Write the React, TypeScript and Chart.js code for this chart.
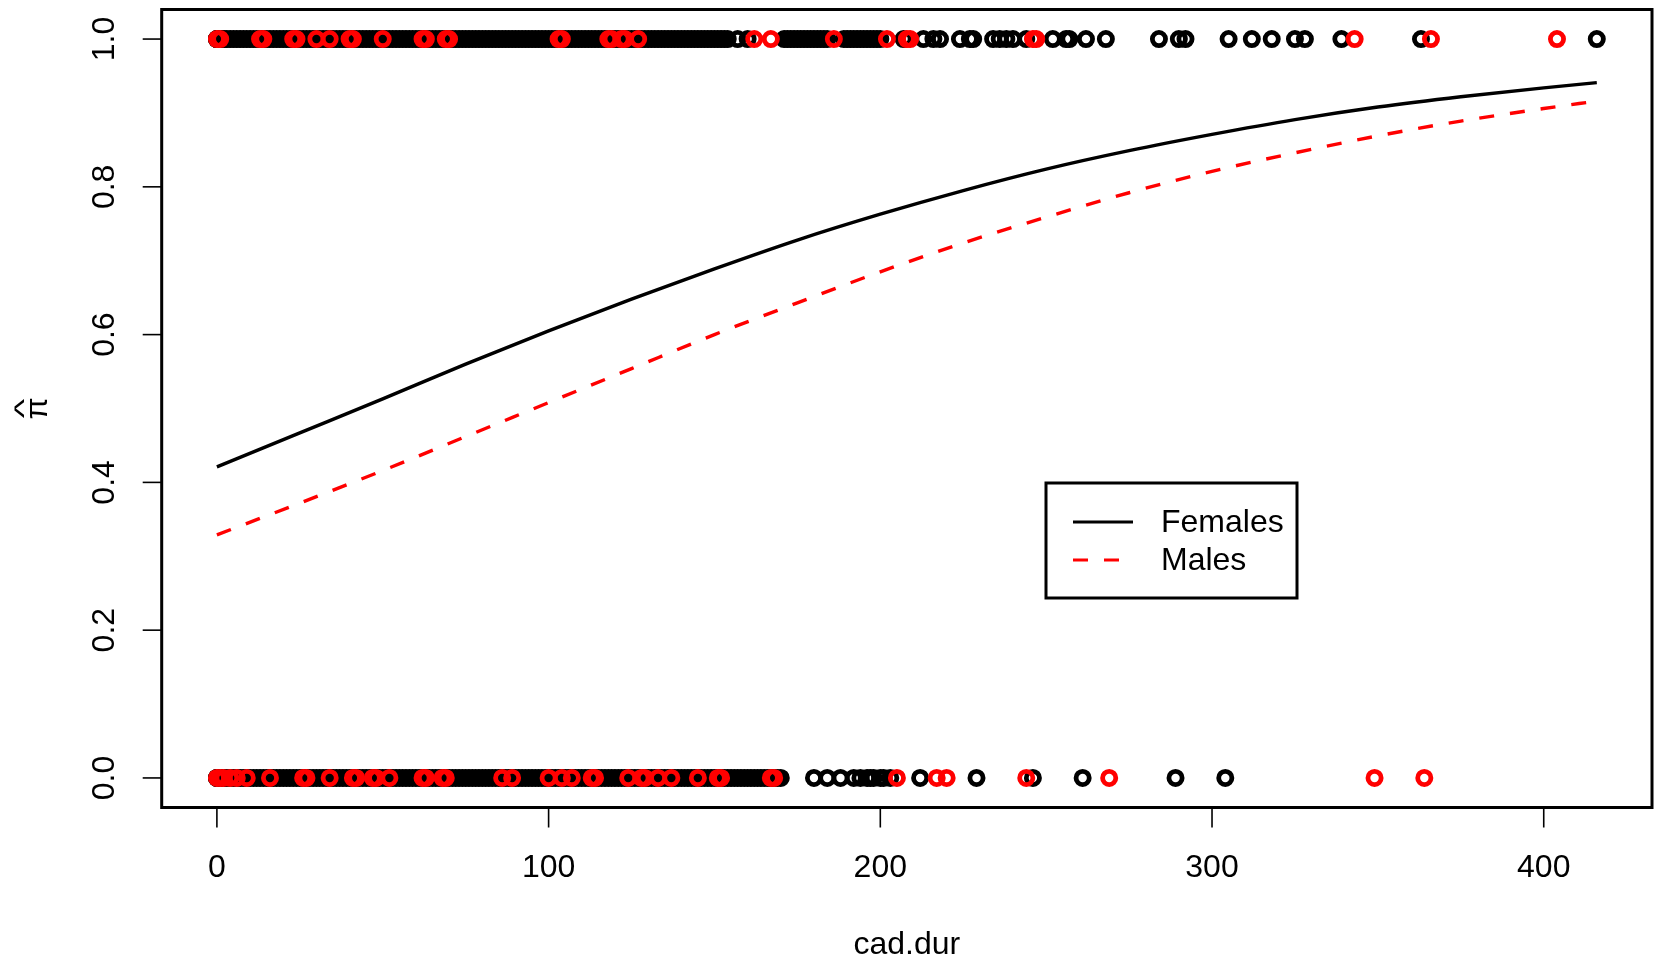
import React, { useEffect, useRef } from "react";
import { Chart, registerables } from "chart.js";

Chart.register(...registerables);

// ---------- data ----------
const xTickValues = [0, 100, 200, 300, 400];
const xTickLabels = ["0", "100", "200", "300", "400"];
const yTickValues = [0, 0.2, 0.4, 0.6, 0.8, 1.0];
const yTickLabels = ["0.0", "0.2", "0.4", "0.6", "0.8", "1.0"];
const xTitle = "cad.dur";
const yTitleBase = "\u03C0";
const yTitleHat = "^";
const legendLabels = ["Females", "Males"];

// fitted curves
const curveX = [0, 25, 50, 75, 100, 125, 150, 175, 200, 225, 250, 275, 300, 325, 350, 375, 400, 416];
const femalesFit = [0.421, 0.467, 0.513, 0.560, 0.605, 0.648, 0.689, 0.728, 0.763, 0.795, 0.824, 0.849, 0.871, 0.891, 0.908, 0.922, 0.934, 0.941];
const malesFit = [0.329, 0.372, 0.416, 0.462, 0.508, 0.554, 0.600, 0.643, 0.685, 0.724, 0.759, 0.792, 0.821, 0.846, 0.869, 0.889, 0.906, 0.916];

// observed outcomes: cad.dur values of females / males with outcome 1 and 0
const femalesOne = [
  0, 0, 0, 1, 1, 2, 2, 3, 4, 5, 6, 7, 8, 9, 10, 11, 12, 13, 14, 15, 16, 17, 18, 19, 20, 21, 22, 23, 24, 25, 26,
  27, 28, 29, 30, 31, 32, 33, 34, 35, 36, 37, 38, 39, 40, 41, 42, 43, 44, 45, 46, 47, 48, 49, 50, 51, 52, 53,
  54, 55, 56, 57, 58, 59, 60, 61, 62, 63, 64, 65, 66, 67, 68, 69, 70, 71, 72, 73, 74, 75, 76, 77, 78, 79, 80,
  81, 82, 83, 84, 85, 86, 87, 88, 89, 90, 91, 92, 93, 94, 95, 96, 97, 98, 99, 100, 101, 102, 103, 104, 105,
  106, 107, 108, 109, 110, 111, 112, 113, 114, 115, 116, 117, 118, 119, 120, 121, 122, 123, 124, 125, 126,
  127, 128, 129, 130, 131, 132, 133, 134, 135, 136, 137, 138, 139, 140, 141, 142, 143, 144, 145, 146, 147,
  148, 149, 150, 151, 152, 153, 154, 157, 160, 171, 172, 173, 174, 175, 176, 177, 178, 179, 180, 181, 182, 183,
  184, 189, 190, 191, 192, 193, 194, 195, 196, 197, 198, 199, 200, 207, 213, 216, 218, 224, 227, 228, 234,
  236, 238, 240, 244, 252, 256, 257, 262, 268, 284, 290, 292, 305, 312, 318, 325, 328, 339, 363, 416,
];
const malesOne = [
  0, 1, 13, 14, 23, 24, 30, 34, 40, 41, 50, 62, 63, 69, 70, 103, 104, 118, 119, 122, 123, 127, 162, 167, 186,
  202, 208, 209, 246, 247, 343, 366, 404,
];
const femalesZero = [
  0, 0, 0, 1, 1, 2, 2, 3, 4, 5, 6, 7, 8, 9, 10, 11, 12, 13, 14, 15, 16, 17, 18, 19, 20, 21, 22, 23, 24, 25, 26,
  27, 28, 29, 30, 31, 32, 33, 34, 35, 36, 37, 38, 39, 40, 41, 42, 43, 44, 45, 46, 47, 48, 49, 50, 51, 52, 53,
  54, 55, 56, 57, 58, 59, 60, 61, 62, 63, 64, 65, 66, 67, 68, 69, 70, 71, 72, 73, 74, 75, 76, 77, 78, 79, 80,
  81, 82, 83, 84, 85, 86, 87, 88, 89, 90, 91, 92, 93, 94, 95, 96, 97, 98, 99, 100, 101, 102, 103, 104, 105,
  106, 107, 108, 109, 110, 111, 112, 113, 114, 115, 116, 117, 118, 119, 120, 121, 122, 123, 124, 125, 126,
  127, 128, 129, 130, 131, 132, 133, 134, 135, 136, 137, 138, 139, 140, 141, 142, 143, 144, 145, 146, 147,
  148, 149, 150, 151, 152, 153, 154, 155, 156, 157, 158, 159, 160, 161, 162, 163, 164, 165, 166, 167, 168,
  169, 170, 180, 184, 188, 192, 194, 196, 197, 198, 200, 201, 203, 212, 229, 246, 261, 289, 304,
];
const malesZero = [
  0, 1, 2, 4, 6, 9, 16, 26, 27, 34, 41, 42, 47, 48, 52, 62, 63, 68, 69, 86, 89, 100, 104, 107, 113, 114, 124,
  128, 129, 133, 137, 145, 151, 152, 167, 168, 205, 217, 220, 244, 269, 349, 364,
];

const BLACK = "#000000";
const RED = "#FF0000";
const FONT = '32px "Liberation Sans", Arial, Helvetica, sans-serif';

export default function App() {
  const ref = useRef<HTMLCanvasElement | null>(null);

  useEffect(() => {
    const canvas = ref.current;
    if (!canvas) return;

    type P = { x: number; y: number; c: string };
    const blacks: P[] = [];
    const reds: P[] = [];
    femalesOne.forEach((x) => blacks.push({ x, y: 1, c: BLACK }));
    femalesZero.forEach((x) => blacks.push({ x, y: 0, c: BLACK }));
    malesOne.forEach((x) => reds.push({ x, y: 1, c: RED }));
    malesZero.forEach((x) => reds.push({ x, y: 0, c: RED }));
    blacks.sort((a, b) => a.x - b.x);
    reds.sort((a, b) => a.x - b.x);
    const pts = [...blacks, ...reds];

    const overlay = {
      id: "rbase",
      beforeDraw(chart: any) {
        const ctx = chart.ctx;
        ctx.save();
        ctx.fillStyle = "#ffffff";
        ctx.fillRect(0, 0, chart.width, chart.height);
        ctx.restore();
      },
      afterDraw(chart: any) {
        const ctx = chart.ctx;
        const a = chart.chartArea;
        const xs = chart.scales.x;
        const ys = chart.scales.y;
        ctx.save();
        ctx.strokeStyle = BLACK;
        ctx.fillStyle = BLACK;
        // box
        ctx.lineWidth = 3;
        ctx.strokeRect(a.left, a.top, a.right - a.left, a.bottom - a.top);
        // ticks
        ctx.lineWidth = 1.6;
        ctx.font = FONT;
        xTickValues.forEach((v, i) => {
          const px = xs.getPixelForValue(v);
          ctx.beginPath();
          ctx.moveTo(px, a.bottom);
          ctx.lineTo(px, a.bottom + 20);
          ctx.stroke();
          ctx.textAlign = "center";
          ctx.textBaseline = "middle";
          ctx.fillText(xTickLabels[i], px, 868);
        });
        yTickValues.forEach((v, i) => {
          const py = ys.getPixelForValue(v);
          ctx.beginPath();
          ctx.moveTo(a.left, py);
          ctx.lineTo(a.left - 19, py);
          ctx.stroke();
          ctx.save();
          ctx.translate(105, py);
          ctx.rotate(-Math.PI / 2);
          ctx.textAlign = "center";
          ctx.textBaseline = "middle";
          ctx.fillText(yTickLabels[i], 0, 0);
          ctx.restore();
        });
        // axis titles
        ctx.textAlign = "center";
        ctx.textBaseline = "middle";
        ctx.fillText(xTitle, (a.left + a.right) / 2, 945);
        ctx.save();
        ctx.translate(47, (a.top + a.bottom) / 2);
        ctx.rotate(-Math.PI / 2);
        ctx.textAlign = "center";
        ctx.textBaseline = "alphabetic";
        ctx.fillText(yTitleBase, 0, 0);
        ctx.save();
        ctx.translate(0, -14);
        ctx.scale(1.3, 0.8);
        ctx.fillText(yTitleHat, 0, 0);
        ctx.restore();
        ctx.restore();
        // legend
        ctx.lineWidth = 3;
        ctx.strokeRect(1046, 483, 251, 115);
        ctx.beginPath();
        ctx.moveTo(1073, 522);
        ctx.lineTo(1133, 522);
        ctx.stroke();
        ctx.strokeStyle = RED;
        ctx.setLineDash([15, 16]);
        ctx.beginPath();
        ctx.moveTo(1073, 560);
        ctx.lineTo(1133, 560);
        ctx.stroke();
        ctx.setLineDash([]);
        ctx.textAlign = "left";
        ctx.textBaseline = "middle";
        ctx.fillStyle = BLACK;
        ctx.fillText(legendLabels[0], 1161, 523);
        ctx.fillText(legendLabels[1], 1161, 561);
        ctx.restore();
      },
    };

    const chart = new Chart(canvas, {
      type: "scatter",
      data: {
        datasets: [
          {
            label: legendLabels[0],
            data: curveX.map((x, i) => ({ x, y: femalesFit[i] })),
            showLine: true,
            borderColor: BLACK,
            borderWidth: 3.4,
            pointRadius: 0,
            fill: false,
            cubicInterpolationMode: "monotone",
            order: 0,
          } as any,
          {
            label: legendLabels[1],
            data: curveX.map((x, i) => ({ x, y: malesFit[i] })),
            showLine: true,
            borderColor: RED,
            borderWidth: 3.4,
            borderDash: [15, 16],
            pointRadius: 0,
            fill: false,
            cubicInterpolationMode: "monotone",
            order: 1,
          } as any,
          {
            label: "obs",
            data: pts.map((p) => ({ x: p.x, y: p.y })),
            showLine: false,
            pointStyle: "circle",
            pointRadius: 6.6,
            pointBorderWidth: 4.8,
            pointBorderColor: pts.map((p) => p.c),
            pointBackgroundColor: "rgba(0,0,0,0)",
            order: 2,
          } as any,
        ],
      },
      options: {
        animation: false,
        responsive: false,
        maintainAspectRatio: false,
        devicePixelRatio: 1,
        events: [],
        layout: { padding: { left: 0, right: 3, top: 9.5, bottom: 0 }, autoPadding: false } as any,
        plugins: { legend: { display: false }, tooltip: { enabled: false } },
        scales: {
          x: {
            type: "linear",
            min: -16.64,
            max: 432.64,
            grid: { display: false },
            border: { display: false },
            ticks: { display: false },
            afterFit: (s: any) => {
              s.height = 155.5;
            },
          },
          y: {
            type: "linear",
            min: -0.04,
            max: 1.04,
            grid: { display: false },
            border: { display: false },
            ticks: { display: false },
            afterFit: (s: any) => {
              s.width = 161.7;
            },
          },
        },
      },
      plugins: [overlay],
    });

    return () => chart.destroy();
  }, []);

  return (
    <div style={{ position: "absolute", left: 0, top: 0, width: 1655, height: 963, background: "#fff" }}>
      <canvas ref={ref} width={1655} height={963} style={{ display: "block", width: 1655, height: 963 }} />
    </div>
  );
}
